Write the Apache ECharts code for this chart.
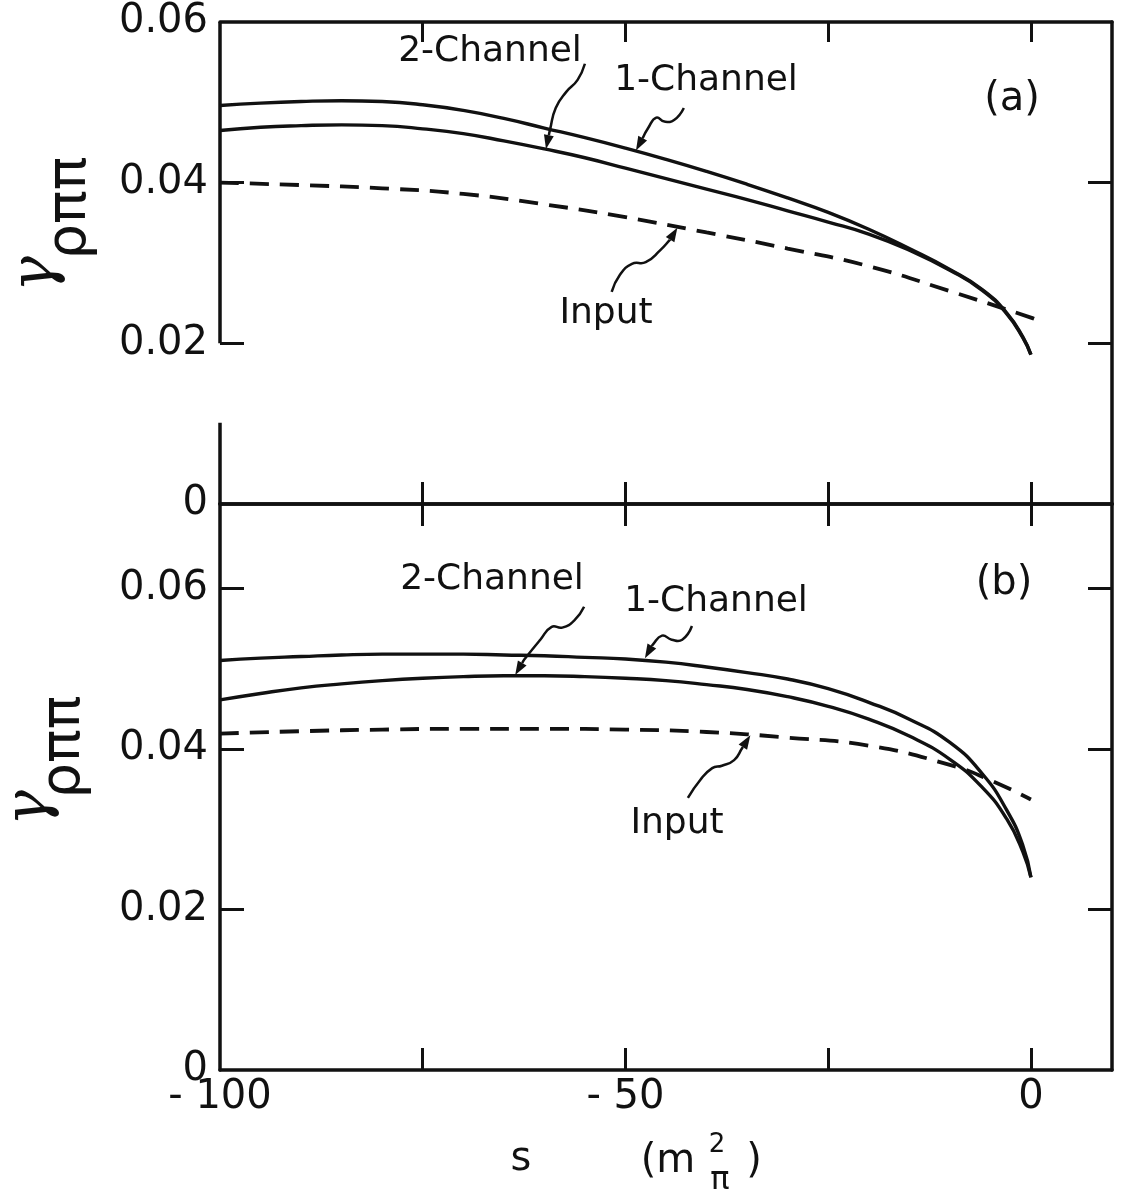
<!DOCTYPE html>
<html><head><meta charset="utf-8">
<script src="https://cdn.jsdelivr.net/npm/echarts@6/dist/echarts.min.js"></script>
<style>html,body{margin:0;padding:0;background:#fff}#c{width:1123px;height:1196px}</style>
</head><body><div id="c"></div>
<script>
// ---------------- data ----------------
// panel (a)
const sA = [-100,-95,-90,-85,-80,-75,-70,-65,-60,-55,-50,-45,-40,-35,-30,-25,-20,-15,-10,-6,-3,-1,0];
const oneChannelA = [0.0496,0.0499,0.0501,0.0502,0.0501,0.0497,0.0490,0.0480,0.0468,0.0456,0.0443,0.0429,0.0414,0.0398,0.0381,0.0363,0.0342,0.0318,0.0292,0.0267,0.0238,0.0208,0.0186];
const twoChannelA = [0.0465,0.0469,0.0471,0.0472,0.0471,0.0467,0.0461,0.0452,0.0442,0.0431,0.0418,0.0405,0.0392,0.0379,0.0365,0.0351,0.0336,0.0316,0.0291,0.0266,0.0237,0.0207,0.0186];
const sInputA = [-100,-90,-80,-70,-60,-50,-40,-30,-20,-10,0,1];
const inputA = [0.0400,0.0397,0.0393,0.0386,0.0373,0.0357,0.0338,0.0318,0.0296,0.0265,0.0232,0.0228];
// panel (b)
const sB = [-100,-95,-90,-85,-80,-75,-70,-65,-60,-55,-50,-45,-40,-35,-30,-25,-20,-15,-10,-6,-3,-1,0];
const oneChannelB = [0.0510,0.0513,0.0515,0.0517,0.0518,0.0518,0.0518,0.0517,0.0516,0.0514,0.0512,0.0508,0.0502,0.0495,0.0487,0.0475,0.0458,0.0437,0.0408,0.0369,0.0324,0.0280,0.0240];
const twoChannelB = [0.0461,0.0469,0.0476,0.0481,0.0485,0.0488,0.0490,0.0491,0.0491,0.0490,0.0488,0.0485,0.0480,0.0474,0.0465,0.0453,0.0437,0.0416,0.0387,0.0352,0.0313,0.0272,0.0240];
const sInputB = [-100,-90,-80,-70,-60,-50,-40,-30,-20,-10,-5,0];
const inputB = [0.0419,0.0422,0.0424,0.0425,0.0425,0.0424,0.0421,0.0414,0.0404,0.0380,0.0361,0.0337];

// tick values / labels
const xTickValues = [-75,-50,-25,0];
const xLabelValues = [-100,-50,0];
const xLabelTexts = ['- 100','- 50','0'];
const yLabelValues = [0,0.02,0.04,0.06];
const yTickValuesA = [0.02,0.04];
const yTickValuesB = [0.02,0.04,0.06];

// leader (arrow) paths, in data coordinates of each panel: start ... tip
const leader2chA = [[-55.0,0.0548],[-55.9,0.0528],[-57.3,0.0513],[-58.6,0.0493],[-59.3,0.0466],[-59.8,0.0442]];
const leader1chA = [[-42.8,0.0493],[-44.0,0.0478],[-45.2,0.0476],[-46.2,0.0481],[-47.2,0.0468],[-48.7,0.0440]];
const leaderInA  = [[-51.7,0.0264],[-50.7,0.0285],[-49.2,0.0299],[-47.5,0.0301],[-45.7,0.0316],[-44.5,0.0329],[-43.6,0.0344]];
const leader2chB = [[-55.1,0.0577],[-56.3,0.0560],[-57.8,0.0551],[-59.1,0.0552],[-60.5,0.0536],[-62.5,0.0511],[-63.6,0.0492]];
const leader1chB = [[-41.8,0.0553],[-43.0,0.0536],[-44.3,0.0536],[-45.5,0.0541],[-46.7,0.0529],[-47.6,0.0513]];
const leaderInB  = [[-42.3,0.0339],[-40.8,0.0361],[-39.3,0.0376],[-38.1,0.0379],[-36.6,0.0386],[-35.6,0.0401],[-34.6,0.0417]];

// ---------------- chart ----------------
const INK = '#111111';
const FONT = 'DejaVu Sans';
const chart = echarts.init(document.getElementById('c'));
const zip = (xs, ys) => xs.map((x, i) => [x, ys[i]]);
const isStep = v => Math.abs(v / 0.02 - Math.round(v / 0.02)) < 1e-6;
const yFmt = v => (Math.abs(v) < 1e-9 ? '0' : (isStep(v) ? v.toFixed(2) : ''));
const xFmt = v => {
  const i = xLabelValues.findIndex(t => Math.abs(t - v) < 1e-9);
  return i >= 0 ? xLabelTexts[i] : '';
};

function xAxis(gridIndex, position, showLabel, tickLen) {
  return {
    type: 'value', gridIndex, position, min: -100, max: 10, interval: 25,
    axisLine: { show: true, onZero: false, lineStyle: { color: INK, width: 3.5 } },
    axisTick: { show: true, inside: true, length: tickLen, customValues: xTickValues, lineStyle: { color: INK, width: 3 } },
    axisLabel: { show: showLabel, customValues: xLabelValues, formatter: xFmt, margin: 8,
      color: INK, fontFamily: FONT, fontSize: 40 },
    splitLine: { show: false }
  };
}
function yAxis(gridIndex, position, max, showLine, ticks, showLabel) {
  return {
    type: 'value', gridIndex, position, min: 0, max, interval: 0.02,
    axisLine: { show: showLine, onZero: false, lineStyle: { color: INK, width: 3.5 } },
    axisTick: { show: true, inside: true, length: 24, customValues: ticks, lineStyle: { color: INK, width: 3 } },
    axisLabel: { show: showLabel, customValues: yLabelValues, formatter: yFmt, margin: 12,
      color: INK, fontFamily: FONT, fontSize: 40 },
    splitLine: { show: false }
  };
}

const solid = (name, xi, yi, data) => ({
  name, type: 'line', xAxisIndex: xi, yAxisIndex: yi, data, showSymbol: false, symbol: 'none',
  smooth: 0.5, clip: false,
  lineStyle: { color: INK, width: 3.4 }
});
const dashed = (name, xi, yi, data) => ({
  name, type: 'line', xAxisIndex: xi, yAxisIndex: yi, data, showSymbol: false, symbol: 'none',
  smooth: 0.5, clip: false,
  lineStyle: { color: INK, width: 3.8, type: [19, 11] }
});

const txt = (x, y, text, font, extra) => Object.assign({
  type: 'text', x, y, silent: true,
  style: { text, fill: INK, font, align: 'center', verticalAlign: 'middle' }
}, extra || {});
const F = size => size + 'px "' + FONT + '"';

chart.setOption({
  animation: false,
  backgroundColor: '#fff',
  grid: [
    { left: 220, top: 22, width: 892, height: 482 },
    { left: 220, top: 504, width: 892, height: 566 }
  ],
  xAxis: [
    xAxis(0, 'bottom', false, 22), xAxis(0, 'top', false, 20),
    xAxis(1, 'bottom', true, 22), xAxis(1, 'top', false, 22)
  ],
  yAxis: [
    yAxis(0, 'left', 0.06, false, yTickValuesA, true),
    yAxis(0, 'right', 0.06, true, yTickValuesA, false),
    yAxis(1, 'left', 0.0705, true, yTickValuesB, true),
    yAxis(1, 'right', 0.0705, true, yTickValuesB, false)
  ],
  series: [
    // broken left axis of panel (a)
    { type: 'line', xAxisIndex: 0, yAxisIndex: 0, silent: true, symbol: 'none', clip: false,
      data: [[-100, 0.06], [-100, 0.02], [-100, '-'], [-100, 0.0101], [-100, 0]],
      lineStyle: { color: INK, width: 3.5 } },
    solid('1-Channel (a)', 0, 0, zip(sA, oneChannelA)),
    solid('2-Channel (a)', 0, 0, zip(sA, twoChannelA)),
    dashed('Input (a)', 0, 0, zip(sInputA, inputA)),
    solid('1-Channel (b)', 2, 2, zip(sB, oneChannelB)),
    solid('2-Channel (b)', 2, 2, zip(sB, twoChannelB)),
    dashed('Input (b)', 2, 2, zip(sInputB, inputB))
  ]
});

// leaders: convert data coordinates through the grids, then draw smooth curve + arrowhead
function leaderGraphic(gridIndex, coords) {
  const pts = coords.map(c => chart.convertToPixel({ gridIndex }, c));
  const n = pts.length;
  const tip = pts[n - 1], prev = pts[n - 2];
  const ang = Math.atan2(tip[1] - prev[1], tip[0] - prev[0]);
  const L = 14, W = 5;
  const bx = tip[0] - L * Math.cos(ang), by = tip[1] - L * Math.sin(ang);
  const head = [tip,
    [bx + W * Math.sin(ang), by - W * Math.cos(ang)],
    [bx - W * Math.sin(ang), by + W * Math.cos(ang)]];
  return [
    { type: 'polyline', silent: true, shape: { points: pts.slice(0, n - 1).concat([[bx, by]]), smooth: 0.5 },
      style: { stroke: INK, lineWidth: 2.5, fill: null } },
    { type: 'polygon', silent: true, shape: { points: head }, style: { fill: INK } }
  ];
}

const graphics = [].concat(
  leaderGraphic(0, leader2chA), leaderGraphic(0, leader1chA), leaderGraphic(0, leaderInA),
  leaderGraphic(1, leader2chB), leaderGraphic(1, leader1chB), leaderGraphic(1, leaderInB),
  [
    // y-axis titles
    txt(37, 274, 'γ', 'italic 60px "DejaVu Serif"', { rotation: Math.PI / 2 }),
    txt(70, 208, 'ρππ', F(56), { rotation: Math.PI / 2 }),
    txt(31, 808, 'γ', 'italic 60px "DejaVu Serif"', { rotation: Math.PI / 2 }),
    txt(64, 747, 'ρππ', F(56), { rotation: Math.PI / 2 }),
    // x-axis title
    txt(521, 1160, 's', F(40)),
    txt(668, 1162, '(m', F(40)),
    txt(717, 1145, '2', F(26)),
    txt(720, 1181, 'π', F(32)),
    txt(754, 1162, ')', F(40)),
    // curve labels
    txt(490, 52, '2-Channel', F(36)),
    txt(706, 81, '1-Channel', F(36)),
    txt(1012, 100, '(a)', F(40)),
    txt(606, 314, 'Input', F(36)),
    txt(492, 580, '2-Channel', F(36)),
    txt(716, 602, '1-Channel', F(36)),
    txt(1004, 584, '(b)', F(40)),
    txt(677, 824, 'Input', F(36))
  ]
);
chart.setOption({ graphic: graphics });
</script></body></html>
